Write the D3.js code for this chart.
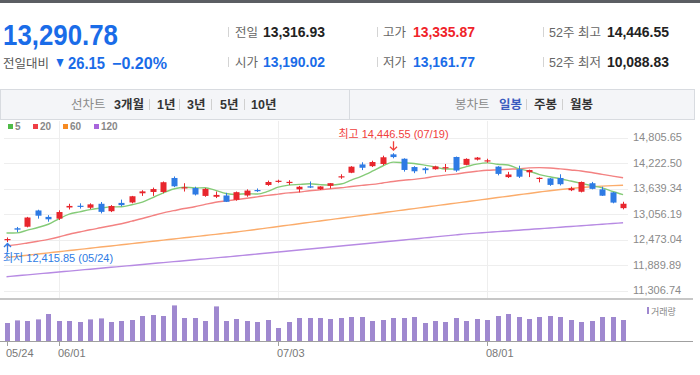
<!DOCTYPE html>
<html>
<head>
<meta charset="utf-8">
<script src="https://cdn.jsdelivr.net/npm/d3@7"></script>
<style>
  body { margin: 0; background: #fff; }
  svg { display: block; font-family: 'Liberation Sans', 'Noto Sans CJK KR', sans-serif; }
</style>
</head>
<body>
<script>
// ---- data ----
var dates = ["05/24","05/25","05/26","05/30","05/31","06/01","06/02","06/05","06/06","06/07",
  "06/08","06/09","06/12","06/13","06/14","06/15","06/16","06/20","06/21","06/22",
  "06/23","06/26","06/27","06/28","06/29","06/30","07/03","07/05","07/06","07/07",
  "07/10","07/11","07/12","07/13","07/14","07/17","07/18","07/19","07/20","07/21",
  "07/24","07/25","07/26","07/27","07/28","07/31","08/01","08/02","08/03","08/04",
  "08/07","08/08","08/09","08/10","08/11","08/14","08/15","08/16","08/17","08/18"];

var opens = [12470,12730,12765,13137,12990,12950,13205,13245,13200,13290,
  13120,13310,13320,13530,13560,13560,13880,13640,13650,13470,
  13450,13480,13380,13480,13605,13720,13790,13775,13620,13690,
  13620,13700,13900,14000,14190,14150,14200,14420,14320,14130,
  14100,14080,14105,14360,14180,14300,14265,14140,13900,14080,
  14010,13860,13870,13880,13600,13565,13760,13620,13550,13190.02];

var highs = [12520,12760,12990,13154,13030,13140,13290,13300,13300,13330,
  13260,13385,13470,13600,13660,13800,13915,13760,13680,13650,
  13570,13540,13570,13620,13640,13820,13840,13830,13700,13800,
  13690,13765,13965,14150,14240,14275,14390,14446.55,14330,14150,
  14130,14160,14200,14370,14330,14360,14320,14150,14020,14160,
  14070,13895,13880,13965,13680,13800,13790,13680,13560,13335.87];

var lows = [12415.85,12640,12750,12950,12880,12920,13160,13180,13170,13070,
  13100,13230,13300,13470,13470,13530,13670,13570,13480,13450,
  13420,13330,13360,13450,13560,13700,13770,13720,13550,13650,
  13605,13640,13860,13990,14060,14130,14170,14330,14025,13990,
  13980,14070,14020,14020,14170,14280,14230,13940,13880,13880,
  13900,13780,13700,13710,13580,13550,13620,13470,13300,13161.77];

var closes = [12484.16,12698.09,12975.69,13017.43,12935.29,13100.98,13240.77,13229.43,13276.42,13104.90,
  13238.52,13259.14,13461.92,13573.32,13626.48,13782.82,13689.57,13667.29,13502.20,13630.61,
  13492.52,13335.78,13555.67,13591.75,13591.33,13787.92,13816.77,13791.65,13679.04,13660.72,
  13685.48,13760.70,13918.96,14138.57,14113.70,14244.95,14353.64,14358.02,14063.31,14032.81,
  14058.87,14144.56,14127.28,14050.11,14316.66,14346.02,14283.91,13973.45,13959.72,13909.24,
  14061.65,13884.32,13722.02,13737.99,13644.85,13788.33,13631.05,13474.63,13316.93,13290.78];

var ma5 = [12622,12624,12688,12747,12822,12946,13054,13105,13157,13191,
  13218,13222,13268,13328,13432,13541,13627,13668,13654,13655,
  13596,13526,13503,13521,13513,13573,13669,13716,13733,13747,
  13727,13716,13741,13833,13924,14035,14154,14242,14227,14211,
  14173,14132,14085,14083,14140,14197,14225,14194,14176,14095,
  14038,13958,13907,13863,13810,13756,13705,13655,13571,13500];

var ma20 = [12328,12356,12394,12434,12477,12530,12594,12644,12695,12741,
  12788,12834,12893,12953,13018,13082,13132,13182,13221,13275,
  13325,13357,13386,13415,13448,13482,13511,13539,13559,13587,
  13609,13634,13657,13685,13710,13733,13766,13801,13829,13849,
  13877,13917,13946,13969,14005,14033,14056,14066,14080,14092,
  14111,14117,14107,14087,14064,14041,14005,13961,13923,13886];

var ma60 = [12061,12088,12114,12141,12167,12194,12220,12247,12273,12300,
  12326,12353,12379,12406,12432,12459,12485,12512,12538,12565,
  12591,12618,12644,12676,12707,12739,12770,12802,12833,12865,
  12896,12928,12959,12991,13022,13054,13085,13117,13148,13180,
  13211,13243,13274,13306,13337,13369,13400,13432,13463,13495,
  13526,13558,13589,13616,13640,13661,13679,13694,13706,13715];

var ma120 = [11622,11644,11665,11687,11708,11730,11751,11773,11794,11816,
  11837,11859,11880,11902,11923,11945,11966,11988,12009,12031,
  12052,12074,12095,12118,12141,12164,12187,12210,12233,12256,
  12279,12302,12325,12348,12371,12394,12417,12440,12463,12486,
  12509,12532,12555,12578,12601,12618,12635,12652,12669,12686,
  12703,12720,12737,12754,12771,12788,12805,12822,12839,12856];

var volumes = [3600,4120,4000,4320,5400,4000,4000,3800,4320,4520,
  3800,4000,4200,5000,5200,5000,7120,4600,4600,4000,
  6920,4000,4400,4000,3800,4200,2600,3800,4600,4600,
  4600,4400,4600,4800,4800,4000,4200,4600,4600,4800,
  3600,4000,3800,4600,4000,4400,4200,5000,5400,4800,
  4400,4800,5000,4800,4200,3800,4000,4800,4800,4200];

var yTicks = [14805.65, 14222.50, 13639.34, 13056.19, 12473.04, 11889.89, 11306.74];
var dateTicks = ["05/24", "06/01", "07/03", "08/01"];

var statLabels = ["전일", "시가", "고가", "저가", "52주 최고", "52주 최저"];
var statValues = ["13,316.93", "13,190.02", "13,335.87", "13,161.77", "14,446.55", "10,088.83"];

var maNames = ["5", "20", "60", "120"];
var maColors = ["#85cb78", "#f38282", "#fbac6b", "#b78ae3"];
var maLegendColors = ["#4fbb47", "#ef3f45", "#f78b22", "#a865dc"];

var UP = "#e8262d", DOWN = "#2e7be4", BLUE = "#1a6ce8";

// ---- setup ----
var svg = d3.select("body").append("svg")
    .attr("width", 700)
    .attr("height", 375);

svg.append("rect").attr("width", 700).attr("height", 375).attr("fill", "#fff");
svg.append("rect").attr("width", 700).attr("height", 3).attr("fill", "#5b5e63");

// header
svg.append("text").attr("x", 3).attr("y", 45)
    .attr("font-size", 30).attr("font-weight", "bold").attr("fill", BLUE)
    .attr("textLength", 115).attr("lengthAdjust", "spacingAndGlyphs")
    .text("13,290.78");
svg.append("text").attr("x", 3).attr("y", 68).attr("font-size", 12.5).attr("fill", "#555").text("전일대비");
svg.append("text").attr("x", 54).attr("y", 67).attr("font-size", 14).attr("fill", BLUE)
    .attr("textLength", 12).attr("lengthAdjust", "spacingAndGlyphs").text("▼");
svg.append("text").attr("x", 68).attr("y", 69).attr("font-size", 16).attr("font-weight", "bold").attr("fill", BLUE)
    .attr("textLength", 37).attr("lengthAdjust", "spacingAndGlyphs").text("26.15");
svg.append("text").attr("x", 112).attr("y", 69).attr("font-size", 16).attr("font-weight", "bold").attr("fill", BLUE)
    .attr("textLength", 55).attr("lengthAdjust", "spacingAndGlyphs").text("−0.20%");

var statCols = [[228, 235, 263], [377, 383, 413], [543, 549, 607]];
var statColors = ["#222", BLUE, "#f0232a", BLUE, "#222", "#222"];
statLabels.forEach(function(lab, i) {
    var c = statCols[Math.floor(i / 2)], by = i % 2 ? 67 : 37;
    svg.append("line").attr("x1", c[0] + 0.5).attr("x2", c[0] + 0.5).attr("y1", by - 10).attr("y2", by)
        .attr("stroke", "#d4d4d4");
    svg.append("text").attr("x", c[1]).attr("y", by).attr("font-size", 12.5).attr("fill", "#666").text(lab);
    svg.append("text").attr("x", c[2]).attr("y", by).attr("font-size", 14).attr("font-weight", "bold")
        .attr("fill", statColors[i])
        .attr("textLength", 62).attr("lengthAdjust", "spacingAndGlyphs").text(statValues[i]);
});

// toolbar
svg.append("rect").attr("x", 0.5).attr("y", 89.5).attr("width", 694).attr("height", 30)
    .attr("fill", "#f4f5f8").attr("stroke", "#d8dbe0");
svg.append("line").attr("x1", 349.5).attr("x2", 349.5).attr("y1", 90).attr("y2", 119).attr("stroke", "#d8dbe0");
var tb = [
    ["선차트", 71, "#8a8a8a", "normal"], ["3개월", 114, "#333", "bold"], ["1년", 157, "#333", "bold"],
    ["3년", 187, "#333", "bold"], ["5년", 220, "#333", "bold"], ["10년", 251, "#333", "bold"],
    ["봉차트", 455, "#8a8a8a", "normal"], ["일봉", 499, "#3a5bbf", "bold"], ["주봉", 534, "#333", "bold"],
    ["월봉", 570, "#333", "bold"]];
tb.forEach(function(t) {
    svg.append("text").attr("x", t[1]).attr("y", 109).attr("font-size", 12.5)
        .attr("fill", t[2]).attr("font-weight", t[3]).text(t[0]);
});
[149, 179, 211, 244, 526, 562].forEach(function(sx) {
    svg.append("line").attr("x1", sx + 0.5).attr("x2", sx + 0.5).attr("y1", 99).attr("y2", 110).attr("stroke", "#d0d0d0");
});

// MA legend
var lgX = [8, 33, 63, 94];
maNames.forEach(function(n, i) {
    svg.append("rect").attr("x", lgX[i]).attr("y", 124).attr("width", 5).attr("height", 5).attr("fill", maLegendColors[i]);
    svg.append("text").attr("x", lgX[i] + 7).attr("y", 130).attr("font-size", 10).attr("font-weight", "bold")
        .attr("fill", "#888").text(n);
});

// ---- scales ----
var x = d3.scaleBand().domain(dates).range([1.3, 628.3]);
var cx = function(d) { return x(d) + x.bandwidth() / 2; };
var y = d3.scaleLinear().domain([11306.74, 14805.65]).range([290.5, 137.5]);
var yVol = d3.scaleLinear().domain([0, 8400]).range([341, 299]);
var fmt = d3.format(",.2f");

// grid
var grid = svg.append("g");
grid.selectAll("line.h").data(yTicks).enter().append("line")
    .attr("x1", 4).attr("x2", 628)
    .attr("y1", d => Math.round(y(d)) + 0.5).attr("y2", d => Math.round(y(d)) + 0.5)
    .attr("stroke", "#eeeeee");
grid.selectAll("line.v").data(dateTicks.slice(1)).enter().append("line")
    .attr("x1", d => Math.round(cx(d)) + 0.5).attr("x2", d => Math.round(cx(d)) + 0.5)
    .attr("y1", 121).attr("y2", 298)
    .attr("stroke", "#eeeeee");

svg.append("g").selectAll("text").data(yTicks).enter().append("text")
    .attr("x", 633).attr("y", d => y(d)).attr("dy", "0.35em")
    .attr("font-size", 11).attr("fill", "#8a8a8a")
    .text(d => fmt(d));

// moving averages
var mas = [ma5, ma20, ma60, ma120];
var line = d3.line().x((d, i) => cx(dates[i])).y(d => y(d)).curve(d3.curveMonotoneX);
svg.append("g").selectAll("path").data(mas.slice().reverse()).enter().append("path")
    .attr("d", line).attr("fill", "none")
    .attr("stroke", (d, i) => maColors[3 - i]).attr("stroke-width", 1.4);

// candles
var candles = svg.append("g").selectAll("g").data(d3.range(dates.length)).enter().append("g");
var col = i => closes[i] >= opens[i] ? UP : DOWN;
candles.append("line")
    .attr("x1", i => Math.round(cx(dates[i])) + 0.5).attr("x2", i => Math.round(cx(dates[i])) + 0.5)
    .attr("y1", i => y(highs[i])).attr("y2", i => y(lows[i]))
    .attr("stroke", col);
candles.append("rect")
    .attr("x", i => Math.round(cx(dates[i])) - 2.5).attr("width", 6)
    .attr("y", i => y(Math.max(opens[i], closes[i])))
    .attr("height", i => Math.max(1.2, Math.abs(y(opens[i]) - y(closes[i]))))
    .attr("fill", col);

// high / low annotations
var hiI = highs.indexOf(d3.max(highs)), loI = lows.indexOf(d3.min(lows));
var hx = Math.round(cx(dates[hiI])) + 0.5, hy = y(highs[hiI]);
svg.append("text").attr("x", hx).attr("y", hy - 15).attr("text-anchor", "middle")
    .attr("font-size", 11).attr("fill", "#f0403c")
    .text("최고 " + fmt(highs[hiI]) + " (" + dates[hiI] + ")");
svg.append("path").attr("d", "M" + hx + "," + (hy - 12) + "V" + (hy - 3) + "M" + (hx - 3.5) + "," + (hy - 6.5) + "L" + hx + "," + (hy - 3) + "L" + (hx + 3.5) + "," + (hy - 6.5))
    .attr("fill", "none").attr("stroke", "#f0403c").attr("stroke-width", 1.3);
var lx = Math.round(cx(dates[loI])) + 0.5, ly = y(lows[loI]);
svg.append("path").attr("d", "M" + lx + "," + (ly + 10) + "V" + (ly + 1.5) + "M" + (lx - 3.5) + "," + (ly + 5) + "L" + lx + "," + (ly + 1.5) + "L" + (lx + 3.5) + "," + (ly + 5))
    .attr("fill", "none").attr("stroke", DOWN).attr("stroke-width", 1.3);
svg.append("text").attr("x", 3).attr("y", ly + 20)
    .attr("font-size", 11).attr("fill", DOWN)
    .text("최저 " + fmt(lows[loI]) + " (" + dates[loI] + ")");

// volume panel
svg.append("line").attr("x1", 0).attr("x2", 693).attr("y1", 299).attr("y2", 299)
    .attr("stroke", "#b4b4b4").attr("stroke-width", 1.6);
svg.append("g").selectAll("rect").data(volumes).enter().append("rect")
    .attr("x", (d, i) => Math.round(cx(dates[i])) - 2).attr("width", 5)
    .attr("y", d => yVol(d)).attr("height", d => yVol(0) - yVol(d))
    .attr("fill", "#9f88cf");
svg.append("line").attr("x1", 0).attr("x2", 693).attr("y1", 341.5).attr("y2", 341.5).attr("stroke", "#a0a0a0");
svg.append("rect").attr("x", 647).attr("y", 307).attr("width", 2).attr("height", 7).attr("fill", "#9f88cf");
svg.append("text").attr("x", 651).attr("y", 315).attr("font-size", 9).attr("fill", "#888").text("거래량");

var xt = svg.append("g").selectAll("g").data(dateTicks).enter().append("g");
xt.append("line")
    .attr("x1", d => Math.round(cx(d)) + 0.5).attr("x2", d => Math.round(cx(d)) + 0.5)
    .attr("y1", 342).attr("y2", 346).attr("stroke", "#a0a0a0");
xt.append("text").attr("x", d => Math.round(cx(d)) - 1).attr("y", 357)
    .attr("font-size", 11).attr("fill", "#777").text(d => d);
</script>
</body>
</html>
